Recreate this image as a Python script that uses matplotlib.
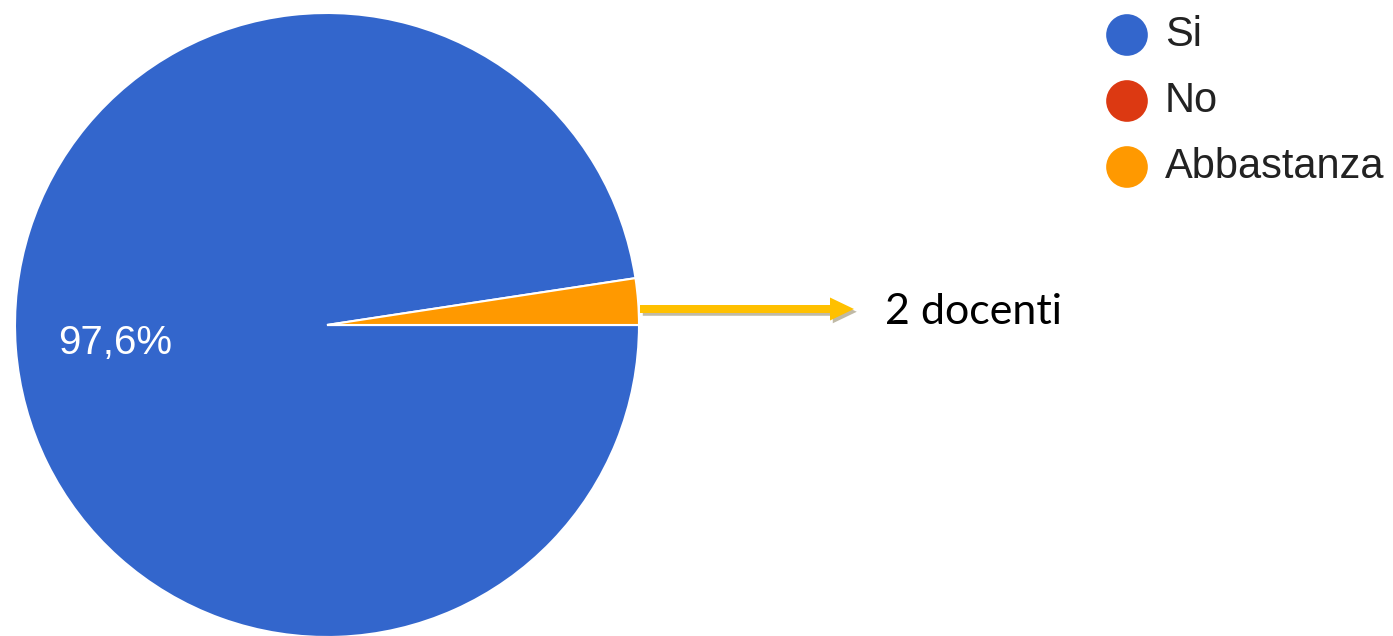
import matplotlib.pyplot as plt
import matplotlib.patheffects as pe

# dati
labels = ['Si', 'No', 'Abbastanza']
values = [97.6, 0.0, 2.4]
colors = ['#3366CC', '#DC3912', '#FF9900']
pct_label = '97,6%'
note = '2 docenti'

W, H = 1393, 636
fig = plt.figure(figsize=(W / 100, H / 100), dpi=100)
ax = fig.add_axes([0, 0, 1, 1])

cx, cy, r = 327, H - 325, 312
start = 360 * values[2] / sum(values)
wedges, _ = ax.pie(values, colors=colors, startangle=start, counterclock=True,
                   center=(cx, cy), radius=r, frame=True,
                   wedgeprops=dict(edgecolor='white', linewidth=1.5))
ax.set_xlim(0, W)
ax.set_ylim(0, H)
ax.set_aspect('equal')
ax.axis('off')

# etichetta percentuale
ax.text(58, H - 343, pct_label, color='white', fontsize=29,
        family='Liberation Sans', ha='left', va='center')

# freccia
ax.arrow(640, H - 309, 214, 0, width=8, head_width=23, head_length=24,
         length_includes_head=True, color='#FFC000', lw=0,
         path_effects=[pe.SimplePatchShadow(offset=(2, -2), alpha=0.35), pe.Normal()])
ax.text(885, H - 312, note, color='black', fontsize=31, family='Lato',
        ha='left', va='center')

# legenda
for i, (lab, col) in enumerate(zip(labels, colors)):
    y = H - (35 + 66 * i)
    ax.scatter([1127], [y], s=30 ** 2, color=col, edgecolors='none')
    ax.text(1165, y, lab, color='#222222', fontsize=30, family='Liberation Sans',
            ha='left', va='center')

fig.savefig('out.png', dpi=100, facecolor='white')
